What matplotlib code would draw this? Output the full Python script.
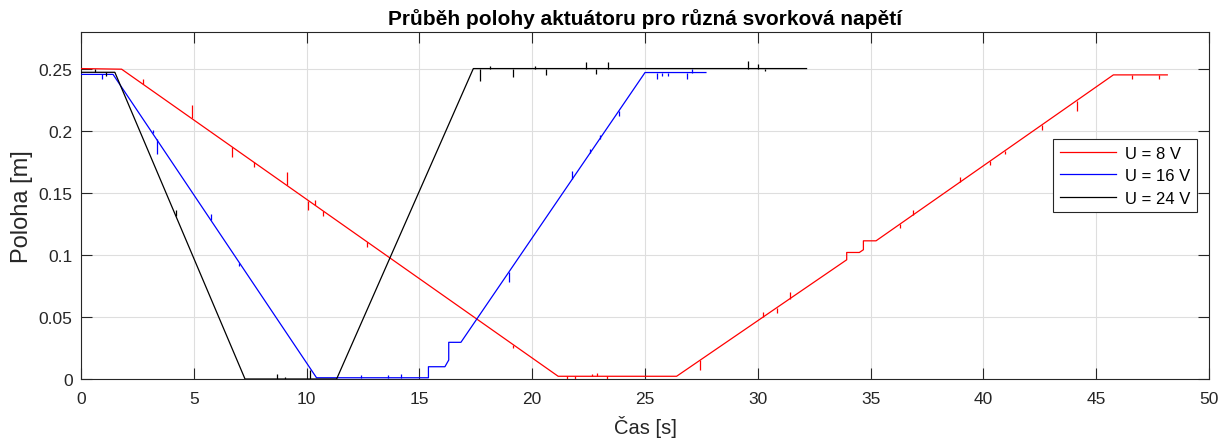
import numpy as np
import matplotlib
matplotlib.use('Agg')
import matplotlib.pyplot as plt

# breakpoints of each trace
t_8v = [0, 1.8, 21.15, 26.4, 33.94, 33.94, 34.5, 34.68, 34.68, 35.24, 45.76, 48.15]
y_8v = [0.2505, 0.2500, 0.0022, 0.0022, 0.0962, 0.1021, 0.1021, 0.1043, 0.1115, 0.1115, 0.2454, 0.2454]

t_16v = [0, 1.42, 10.44, 15.4, 15.4, 16.13, 16.3, 16.3, 16.84, 25.0, 27.7]
y_16v = [0.2458, 0.2458, 0.0010, 0.0010, 0.0099, 0.0099, 0.0153, 0.0296, 0.0296, 0.2473, 0.2473]

t_24v = [0, 1.5, 7.27, 11.33, 17.39, 32.16]
y_24v = [0.2475, 0.2475, 0.0, 0.0, 0.2505, 0.2505]

# short glitches (time, offset from the trace)
spk_t_8v = [2.76, 4.9, 6.68, 7.67, 9.11, 10.08, 10.37, 10.73, 12.68, 19.16, 21.53, 21.9,
            22.64, 22.86, 23.3, 27.44, 30.24, 30.83, 31.43, 36.3, 36.89, 38.96, 40.29,
            40.96, 42.58, 44.13, 46.6, 47.8]
spk_d_8v = [0.004, 0.0107, -0.008, -0.004, 0.0107, -0.0075, 0.004, -0.004, -0.004, -0.003,
            -0.002, -0.002, 0.002, 0.003, -0.002, -0.008, 0.004, -0.004, 0.005, -0.003,
            0.004, 0.004, -0.003, -0.003, -0.004, -0.008, -0.003, -0.003]

spk_t_16v = [0.92, 3.17, 3.35, 5.76, 7.02, 12.4, 13.6, 14.2, 18.97, 21.78, 22.56, 23.0,
             23.85, 25.52, 25.74, 26.03, 26.84, 27.1]
spk_d_16v = [-0.004, 0.003, -0.0115, 0.005, -0.003, 0.002, 0.002, 0.003, -0.008, 0.0067,
             0.003, 0.003, -0.004, -0.005, -0.003, -0.003, -0.005, 0.003]

spk_t_24v = [0.6, 1.1, 4.21, 8.67, 9.04, 10.15, 17.69, 18.13, 19.16, 20.12, 20.61, 22.39,
             22.83, 23.37, 29.58, 30.02, 30.3]
spk_d_24v = [0.003, -0.003, 0.005, 0.004, 0.002, 0.007, -0.01, 0.002, -0.007, 0.002,
             -0.005, 0.005, -0.004, 0.005, 0.0065, 0.004, -0.002]

labels = ['U = 8 V', 'U = 16 V', 'U = 24 V']
colors = ['#ff0000', '#0000ff', '#000000']

plt.rcParams['font.family'] = ['Liberation Sans', 'DejaVu Sans']
dark = '#262626'

fig = plt.figure(figsize=(12.2, 4.39), dpi=100)
ax = fig.add_axes([0.0664, 0.1344, 0.9246, 0.7904])

series = [(t_8v, y_8v, spk_t_8v, spk_d_8v),
          (t_16v, y_16v, spk_t_16v, spk_d_16v),
          (t_24v, y_24v, spk_t_24v, spk_d_24v)]

for (t, y, st, sd), lab, c in zip(series, labels, colors):
    ax.plot(t, y, color=c, lw=0.9, label=lab, zorder=3)
    base = np.interp(st, t, y)
    ax.vlines(st, base, base + np.array(sd), color=c, lw=0.9, zorder=3)

ax.set_xlim(0, 50)
ax.set_ylim(0, 0.28)
ax.set_xticks(np.arange(0, 51, 5))
ax.set_yticks([0, 0.05, 0.1, 0.15, 0.2, 0.25])
ax.set_yticklabels(['0', '0.05', '0.1', '0.15', '0.2', '0.25'])
ax.grid(True, color='#dedede', lw=0.8)
ax.set_axisbelow(True)
ax.tick_params(direction='in', length=8, width=0.8, top=True, right=True,
               labelsize=12.5, colors=dark)
ax.tick_params(axis='x', pad=9)
ax.tick_params(axis='y', pad=6)
for s in ax.spines.values():
    s.set_color(dark)
    s.set_linewidth(0.8)

ax.set_xlabel('Čas [s]', fontsize=14.5, color=dark, labelpad=6)
ax.set_ylabel('Poloha [m]', fontsize=17, color=dark, labelpad=4)
ax.set_title('Průběh polohy aktuátoru pro různá svorková napětí',
             fontsize=15, fontweight='bold', color='black', pad=6)

leg = ax.legend(loc='upper right', bbox_to_anchor=(0.989, 0.692), fontsize=12,
                frameon=True, fancybox=False, framealpha=1, edgecolor=dark,
                handlelength=3.4, borderpad=0.4, labelspacing=0.45, handletextpad=0.5,
                borderaxespad=0)
leg.get_frame().set_linewidth(0.8)

fig.savefig('out.png', dpi=100)
